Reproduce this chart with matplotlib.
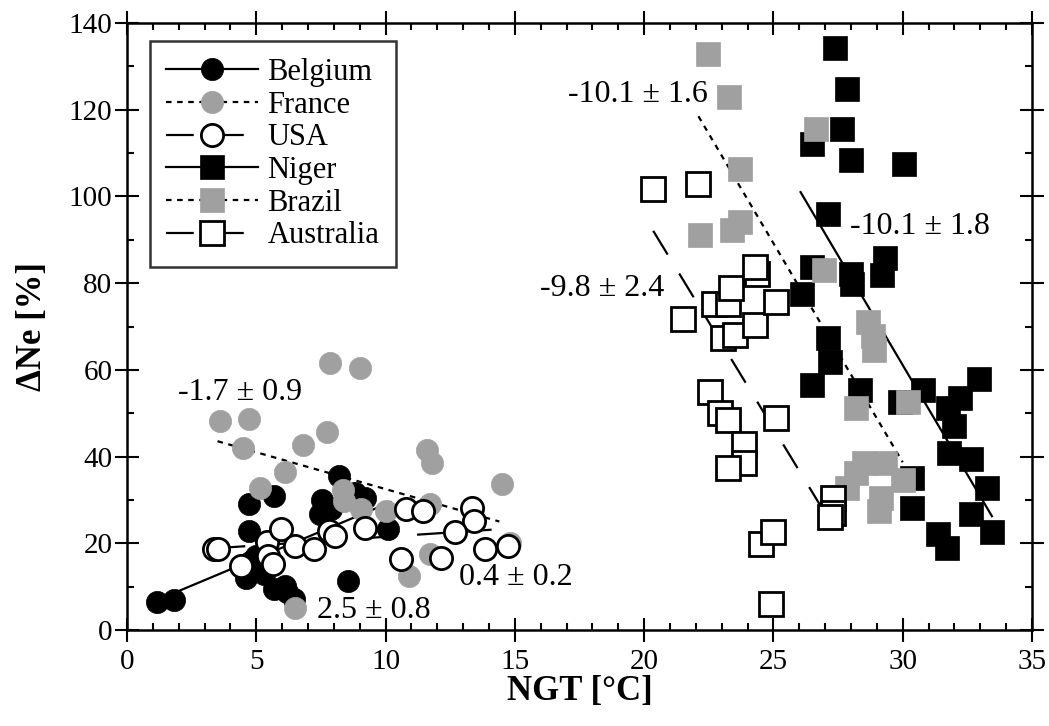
import matplotlib
matplotlib.use("Agg")
import matplotlib.pyplot as plt
from matplotlib.lines import Line2D
import numpy as np

plt.rcParams['font.family'] = ['Liberation Serif', 'DejaVu Serif']
plt.rcParams['lines.scale_dashes'] = False

# --- data: NGT [°C] vs. ΔNe [%] ---
bel_x = [1.15, 1.8, 4.6, 4.75, 5.0, 4.7, 4.7, 5.7, 5.7, 6.1, 6.2, 6.45, 5.3, 7.45, 7.55, 8.2, 8.8, 8.55, 10.1, 7.9, 9.2]
bel_y = [6.4, 7.0, 12.1, 15.6, 17.1, 22.8, 29.0, 30.9, 9.4, 10.2, 8.7, 7.1, 13.0, 26.7, 30.1, 35.5, 31.7, 11.3, 23.2, 28.0, 30.5]

fra_x = [3.6, 4.7, 4.5, 6.1, 5.15, 6.8, 7.75, 7.85, 9.0, 8.35, 8.4, 9.05, 10.0, 11.6, 11.8, 14.5, 11.7, 11.7, 10.9, 14.8, 6.5]
fra_y = [48.1, 48.7, 42.0, 36.4, 32.8, 42.6, 45.7, 61.5, 60.4, 32.4, 29.7, 27.8, 27.4, 41.6, 38.5, 33.6, 29.0, 17.5, 12.5, 20.0, 5.0]

usa_x = [3.35, 3.5, 4.4, 5.4, 5.95, 5.45, 5.65, 6.5, 7.25, 7.8, 8.05, 9.2, 10.8, 11.45, 13.35, 13.4, 12.7, 10.6, 12.15, 13.85, 14.75]
usa_y = [18.6, 18.6, 14.8, 20.2, 23.2, 17.1, 15.2, 19.4, 18.6, 22.8, 21.7, 23.6, 27.8, 27.4, 28.2, 25.1, 22.5, 16.3, 16.7, 18.6, 19.4]

nig_x = [27.4, 27.85, 27.65, 26.5, 28.0, 30.05, 27.1, 29.3, 29.2, 26.5, 28.0, 28.05, 26.1, 27.1, 27.2, 26.5,
         28.35, 30.8, 32.95, 32.2, 31.75, 32.0, 31.8, 32.65, 30.35, 30.35, 33.25, 32.65, 33.45, 31.35, 31.7, 29.9]
nig_y = [134.2, 124.7, 115.6, 112.1, 108.3, 107.5, 96.0, 85.7, 81.8, 83.7, 82.2, 79.9, 77.6, 67.3, 61.9, 56.6,
         55.4, 55.4, 57.9, 53.5, 51.2, 47.0, 40.8, 39.5, 35.1, 28.2, 32.8, 26.7, 22.5, 22.1, 19.0, 52.5]

bra_x = [22.45, 23.3, 23.7, 22.15, 23.4, 23.7, 26.65, 26.95, 28.65, 28.85, 28.9, 28.2, 30.2, 28.5, 29.3, 27.85, 30.0, 29.15, 29.1, 28.2]
bra_y = [132.8, 123.0, 106.4, 91.0, 92.2, 94.1, 115.6, 83.0, 71.1, 67.7, 64.6, 51.2, 52.5, 38.5, 38.5, 32.8, 34.7, 30.5, 27.4, 36.3]

aus_x = [20.35, 22.1, 21.5, 22.7, 23.25, 23.35, 24.35, 24.3, 23.05, 23.5, 24.3, 25.1, 22.55, 22.95, 23.25,
         23.85, 23.85, 23.25, 25.1, 27.3, 27.3, 27.2, 24.5, 25.0, 24.9]
aus_y = [101.8, 102.9, 71.8, 75.3, 75.3, 78.8, 82.2, 83.8, 67.3, 68.0, 70.3, 75.6, 55.0, 50.0, 48.5,
         42.8, 38.5, 37.4, 48.9, 30.5, 27.0, 26.0, 19.8, 22.5, 6.0]

# regression lines: slope, intercept, x range
fit_slope = [2.5, -1.7, 0.4, -10.1, -10.1, -9.8]
fit_icpt = [4.0, 49.5, 17.5, 364.1, 341.7, 291.5]
fit_xmin = [1.2, 3.5, 3.5, 26.05, 22.1, 20.35]
fit_xmax = [10.2, 14.4, 14.1, 33.45, 30.0, 26.9]

slope_labels = ["2.5 ± 0.8", "-1.7 ± 0.9", "0.4 ± 0.2", "-10.1 ± 1.8", "-10.1 ± 1.6", "-9.8 ± 2.4"]
label_x = [9.55, 4.37, 15.04, 30.66, 19.76, 18.39]
label_y = [4.6, 54.7, 12.0, 93.0, 123.4, 78.8]

names = ["Belgium", "France", "USA", "Niger", "Brazil", "Australia"]
xs = [bel_x, fra_x, usa_x, nig_x, bra_x, aus_x]
ys = [bel_y, fra_y, usa_y, nig_y, bra_y, aus_y]

gray = '#a0a0a0'
face = ['black', gray, 'white', 'black', gray, 'white']
edge = ['black', gray, 'black', 'black', gray, 'black']
mark = ['o', 'o', 'o', 's', 's', 's']
msize = [16, 16, 16, 17, 17, 17]
dotted = (0, (4, 4))
longdash = (0, (20, 16))
styles = ['-', dotted, longdash, '-', dotted, longdash]

fig = plt.figure(figsize=(10.49, 7.26), dpi=100)
ax = fig.add_axes([0.1211, 0.1322, 0.8627, 0.8361])

for i in range(6):
    fx = np.array([fit_xmin[i], fit_xmax[i]])
    ax.plot(fx, fit_slope[i] * fx + fit_icpt[i], color='black', lw=1.6,
            linestyle=styles[i], zorder=2)

for i in range(6):
    ax.plot(xs[i], ys[i], linestyle='none', marker=mark[i], markersize=msize[i],
            markerfacecolor=face[i], markeredgecolor=edge[i],
            markeredgewidth=2 if face[i] == 'white' else 0.5, zorder=3 + i)

for t, tx, ty in zip(slope_labels, label_x, label_y):
    ax.text(tx, ty, t, fontsize=23, ha='center', va='center', zorder=20)

ax.set_xlim(0, 35)
ax.set_ylim(0, 140)
ax.set_xticks(np.arange(0, 36, 5))
ax.set_yticks(np.arange(0, 141, 20))
ax.set_xticks(np.arange(0, 36, 1), minor=True)
ax.set_yticks(np.arange(0, 141, 10), minor=True)
ax.tick_params(which='major', direction='inout', length=17, width=1.5,
               top=True, right=True, labelsize=21, pad=2)
ax.tick_params(axis='x', which='major', pad=5)
ax.tick_params(which='minor', direction='in', length=5, width=1.5, top=True, right=True)
for s in ax.spines.values():
    s.set_linewidth(1.8)

ax.set_xlabel("NGT [°C]", fontsize=25, fontweight='bold', labelpad=0)
ax.set_ylabel("ΔNe [%]", fontsize=25, fontweight='bold', labelpad=14)

handles = [Line2D([0], [0], color='black', lw=1.6, linestyle=styles[i], marker=mark[i],
                  markersize=msize[i], markerfacecolor=face[i], markeredgecolor=edge[i],
                  markeredgewidth=2 if face[i] == 'white' else 0.5)
           for i in range(6)]
leg = ax.legend(handles, names, loc='upper left', bbox_to_anchor=(0.025, 0.97),
                fontsize=22, frameon=True, fancybox=False, handlelength=3.0,
                labelspacing=0.12, handletextpad=0.3, borderpad=0.55, borderaxespad=0)
leg.get_frame().set_edgecolor('black')
leg.get_frame().set_linewidth(1.8)
leg.set_zorder(30)

fig.savefig("out.png", dpi=100)
